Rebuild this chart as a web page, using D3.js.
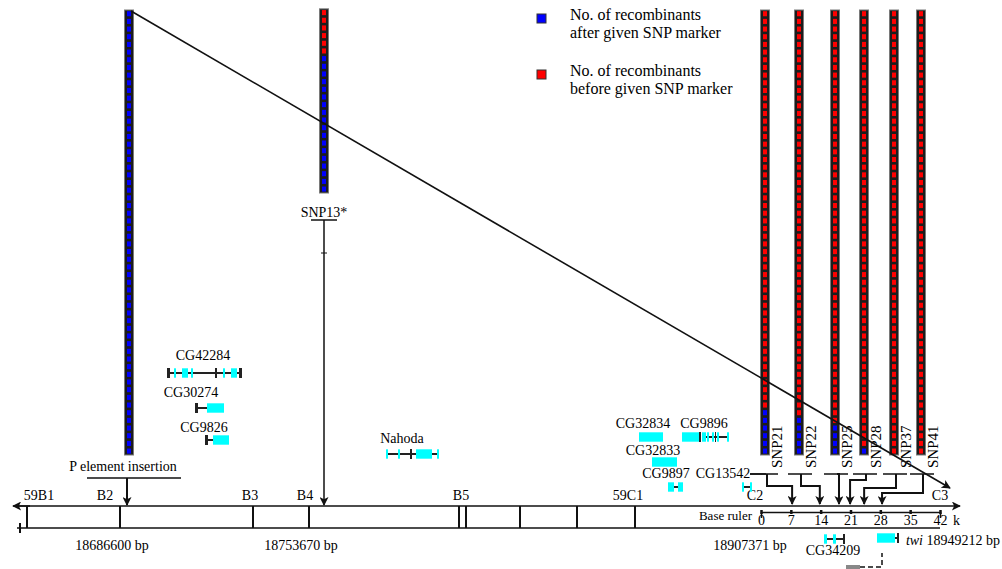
<!DOCTYPE html>
<html>
<head>
<meta charset="utf-8">
<script src="https://cdn.jsdelivr.net/npm/d3@7"></script>
<style>
body { margin: 0; background: #fff; }
svg text { font-family: "Liberation Serif", "Times New Roman", serif; fill: #000; }
</style>
</head>
<body>
<div id="chart"></div>
<script>
const w = 1002;
const h = 569;

// recombinant counts for each marker column
var markers = ["P element", "SNP13*", "SNP21", "SNP22", "SNP25", "SNP28", "SNP37", "SNP41"];
var afterCounts = [58, 18, 6, 5, 4, 1, 0, 0];
var beforeCounts = [0, 6, 52, 53, 54, 57, 58, 58];
var markerPos = [129, 324, 765, 799, 835, 864, 894, 921]; // schematic map units

// SNP positions on the base ruler (kb)
var snpNames = ["SNP21", "SNP22", "SNP25", "SNP28", "SNP37", "SNP41"];
var snpKb = [7.3, 13.8, 18.3, 20.9, 24.2, 28.4];
var rulerTicks = [0, 7, 14, 21, 28, 35, 42];

// cytological bands
var bandNames = ["59B1", "B2", "B3", "B4", "B5", "59C1", "C2", "C3"];
var bandLabelPos = [39, 105, 250, 305, 461, 628, 755, 940];
var bandBorders = [27, 120, 253, 309, 459, 466, 520, 577, 635];

var coordLabels = ["18686600 bp", "18753670 bp", "18907371 bp"];
var coordPos = [112, 301, 750];

// genes: name, label position, parts [kind, start, end]
var geneNames = ["CG42284", "CG30274", "CG9826", "Nahoda", "CG32834", "CG9896", "CG32833", "CG9897", "CG13542", "CG34209", "twi"];
var geneLabelX = [203, 191, 204, 402, 643, 704, 653, 666, 723, 833, null];
var geneParts = [
    [["intron", 167, 241], ["exon", 174, 176], ["exon", 182, 188], ["exon", 191, 193], ["exon", 223, 225], ["exon", 231, 237], ["cap", 167, 170], ["cap", 215, 217], ["cap", 239, 242]],
    [["intron", 196, 207], ["cap", 195, 198], ["exon", 207, 224]],
    [["intron", 206, 213], ["cap", 205, 208], ["exon", 213, 229]],
    [["intron", 387, 439], ["exon", 386, 388], ["exon", 398, 400], ["exon", 416, 432], ["exon", 437, 439], ["cap", 410, 412]],
    [["exon", 639, 663]],
    [["intron", 706, 729], ["exon", 682, 699], ["cap", 699, 701], ["exon", 702, 706], ["exon", 707, 709], ["exon", 712, 714], ["cap", 715, 716], ["exon", 717, 719], ["exon", 727, 729]],
    [["exon", 652, 677]],
    [["exon", 668, 674], ["intron", 674, 678], ["exon", 678, 683]],
    [["intron", 743, 751], ["exon", 742, 744], ["exon", 750, 752]],
    [["intron", 825, 845], ["exon", 824, 827], ["exon", 833, 836], ["cap", 843, 845]],
    [["exon", 877, 895], ["intron", 895, 899], ["cap", 897, 899]]
];

// layout
var geneRowY = [373, 408, 440, 454, 437, 437, 462, 487, 487, 539, 538];
var geneLabelY = [360, 397, 432, 443, 428, 428, 455, 478, 478, 555, 0];
var barBase = [455, 455, 455, 455, 455, 455, 455, 455];
barBase[1] = 193;
var elbowY = [486, 486, 474, 480, 488, 493];
var topLineY = 506;
var bottomLineY = 528;
var serif = "Liberation Serif, Times New Roman, serif";

var mapX = d3.scaleLinear().domain([0, 1000]).range([0, 1000]);
var cellScale = d3.scaleLinear().domain([0, 58]).range([0, 445]);
var ruler = d3.scaleLinear().domain([0, 42]).range([761, 940]);

var svg = d3.select("#chart")
    .append("svg")
    .attr("width", w)
    .attr("height", h);

svg.append("rect").attr("width", w).attr("height", h).attr("fill", "#fff");

var defs = svg.append("defs");
defs.append("marker")
    .attr("id", "arrow")
    .attr("viewBox", "0 0 10 10")
    .attr("refX", 9)
    .attr("refY", 5)
    .attr("markerWidth", 10)
    .attr("markerHeight", 9)
    .attr("markerUnits", "userSpaceOnUse")
    .attr("orient", "auto")
    .append("path")
    .attr("d", "M0,0 L10,5 L0,10 L2.5,5 z")
    .attr("fill", "#111");

// ---- recombinant bars ----
var bars = svg.selectAll("g.bar")
    .data(markers)
    .enter()
    .append("g")
    .attr("class", "bar");

bars.append("rect")
    .attr("x", function(d, i) { return mapX(markerPos[i]) - 4.5; })
    .attr("y", function(d, i) { return barBase[i] - cellScale(afterCounts[i] + beforeCounts[i]); })
    .attr("width", 9)
    .attr("height", function(d, i) { return cellScale(afterCounts[i] + beforeCounts[i]); })
    .attr("fill", "#1c1c1c")
    .attr("stroke", "#7a7a7a")
    .attr("stroke-width", 1);

bars.each(function(d, i) {
    var cells = [];
    for (var k = 0; k < afterCounts[i] + beforeCounts[i]; k++) {
        cells.push(k < afterCounts[i] ? "#0000ff" : "#ff0000");
    }
    d3.select(this).selectAll("rect.cell")
        .data(cells)
        .enter()
        .append("rect")
        .attr("class", "cell")
        .attr("x", mapX(markerPos[i]) - 2)
        .attr("y", function(c, k) { return barBase[i] - cellScale(k + 1) + 1.2; })
        .attr("width", 4)
        .attr("height", cellScale(1) - 2.6)
        .attr("fill", function(c) { return c; });
});

// ---- legend ----
var legendText = [["No. of recombinants", "after given SNP marker"], ["No. of recombinants", "before given SNP marker"]];
var legendColour = ["#0000ff", "#ff0000"];
var legend = svg.selectAll("g.legend")
    .data(legendText)
    .enter()
    .append("g")
    .attr("class", "legend")
    .attr("transform", function(d, i) { return "translate(537," + (14 + i * 56) + ")"; });
legend.append("rect")
    .attr("width", 9)
    .attr("height", 9)
    .attr("fill", function(d, i) { return legendColour[i]; })
    .attr("stroke", "#333")
    .attr("stroke-width", 1);
legend.each(function(d) {
    d3.select(this).selectAll("text")
        .data(d)
        .enter()
        .append("text")
        .attr("x", 33)
        .attr("y", function(t, j) { return 6 + j * 18; })
        .attr("font-size", 16)
        .text(function(t) { return t; });
});

// ---- chromosome band ----
svg.append("line")
    .attr("x1", 14).attr("x2", 960)
    .attr("y1", topLineY).attr("y2", topLineY)
    .attr("stroke", "#111").attr("stroke-width", 1.5)
    .attr("marker-end", "url(#arrow)");
svg.append("line")
    .attr("x1", 30).attr("x2", 13)
    .attr("y1", topLineY).attr("y2", topLineY)
    .attr("stroke", "#111").attr("stroke-width", 1.5)
    .attr("marker-end", "url(#arrow)");
svg.append("line")
    .attr("x1", 17).attr("x2", 940)
    .attr("y1", bottomLineY).attr("y2", bottomLineY)
    .attr("stroke", "#111").attr("stroke-width", 1.5);
svg.append("line")
    .attr("x1", 20).attr("x2", 20)
    .attr("y1", bottomLineY - 5).attr("y2", bottomLineY + 5)
    .attr("stroke", "#111").attr("stroke-width", 2);

svg.selectAll("line.border")
    .data(bandBorders)
    .enter()
    .append("line")
    .attr("class", "border")
    .attr("x1", function(d) { return mapX(d); })
    .attr("x2", function(d) { return mapX(d); })
    .attr("y1", topLineY)
    .attr("y2", bottomLineY)
    .attr("stroke", "#111")
    .attr("stroke-width", 2);

svg.selectAll("text.band")
    .data(bandNames)
    .enter()
    .append("text")
    .attr("class", "band")
    .attr("x", function(d, i) { return mapX(bandLabelPos[i]); })
    .attr("y", 500)
    .attr("text-anchor", "middle")
    .attr("font-size", 14)
    .text(function(d) { return d; });

svg.selectAll("text.coord")
    .data(coordLabels)
    .enter()
    .append("text")
    .attr("class", "coord")
    .attr("x", function(d, i) { return mapX(coordPos[i]); })
    .attr("y", 550)
    .attr("text-anchor", "middle")
    .attr("font-size", 14)
    .text(function(d) { return d; });

var twiLabel = svg.append("text")
    .attr("x", 1000)
    .attr("y", 545)
    .attr("text-anchor", "end")
    .attr("font-size", 14);
twiLabel.append("tspan").attr("font-style", "italic").text("twi");
twiLabel.append("tspan").text(" 18949212 bp");

// ---- base ruler ----
var rulerAxis = d3.axisBottom(ruler)
    .tickValues(rulerTicks)
    .tickSizeInner(4)
    .tickSizeOuter(6);
var rg = svg.append("g")
    .attr("transform", "translate(0,512)")
    .call(rulerAxis)
    .attr("font-family", serif)
    .attr("font-size", 14);
rg.select(".domain").attr("stroke", "#111").attr("stroke-width", 1.5);
rg.selectAll(".tick line").attr("y1", -2).attr("y2", 2).attr("stroke", "#111").attr("stroke-width", 2.5);
rg.selectAll(".tick text").attr("y", 3).attr("fill", "#000");
svg.append("text").attr("x", 953).attr("y", 525).attr("font-size", 14).text("k");
svg.append("text").attr("x", 752).attr("y", 520).attr("text-anchor", "end").attr("font-size", 13).text("Base ruler");

// ---- P element and SNP13* arrows ----
svg.append("text").attr("x", mapX(123)).attr("y", 471).attr("text-anchor", "middle").attr("font-size", 14).text("P element insertion");
svg.append("line").attr("x1", 87).attr("x2", 181).attr("y1", 478).attr("y2", 478).attr("stroke", "#111").attr("stroke-width", 1.5);
svg.append("line")
    .attr("x1", mapX(127)).attr("x2", mapX(127))
    .attr("y1", 478).attr("y2", topLineY - 1)
    .attr("stroke", "#111").attr("stroke-width", 2)
    .attr("marker-end", "url(#arrow)");

svg.append("text").attr("x", mapX(markerPos[1])).attr("y", 217).attr("text-anchor", "middle").attr("font-size", 14).text(markers[1]);
svg.append("line").attr("x1", 311).attr("x2", 337).attr("y1", 220).attr("y2", 220).attr("stroke", "#111").attr("stroke-width", 1.5);
svg.append("line").attr("x1", 321).attr("x2", 327).attr("y1", 253).attr("y2", 253).attr("stroke", "#111").attr("stroke-width", 1);
svg.append("line")
    .attr("x1", mapX(markerPos[1])).attr("x2", mapX(markerPos[1]))
    .attr("y1", 220).attr("y2", topLineY - 1)
    .attr("stroke", "#111").attr("stroke-width", 1.5)
    .attr("marker-end", "url(#arrow)");

// ---- SNP labels and connectors ----
var snp = svg.selectAll("g.snp")
    .data(snpNames)
    .enter()
    .append("g")
    .attr("class", "snp");

snp.append("text")
    .attr("transform", function(d, i) { return "translate(" + (mapX(markerPos[i + 2]) + 17) + ",468) rotate(-90)"; })
    .attr("font-size", 15)
    .text(function(d) { return d; });

snp.append("line")
    .attr("x1", function(d, i) { return i === 0 ? 750 : mapX(markerPos[i + 2]) - 11; })
    .attr("x2", function(d, i) { return mapX(markerPos[i + 2]) + 13; })
    .attr("y1", 474).attr("y2", 474)
    .attr("stroke", "#111").attr("stroke-width", 1.5);

snp.append("path")
    .attr("d", function(d, i) {
        var x0 = mapX(markerPos[i + 2]) + 2;
        var x1 = ruler(snpKb[i]);
        return "M" + x0 + ",474 V" + elbowY[i] + " H" + x1 + " V" + (topLineY - 2);
    })
    .attr("fill", "none")
    .attr("stroke", "#111")
    .attr("stroke-width", 2)
    .attr("marker-end", "url(#arrow)");

// ---- diagonal ----
svg.append("line")
    .attr("x1", mapX(markerPos[0]) + 2).attr("y1", 11)
    .attr("x2", 950).attr("y2", 488)
    .attr("stroke", "#111").attr("stroke-width", 1.6)
    .attr("marker-end", "url(#arrow)");

// ---- genes ----
var genes = svg.selectAll("g.gene")
    .data(geneNames)
    .enter()
    .append("g")
    .attr("class", "gene");

genes.each(function(d, i) {
    var g = d3.select(this);
    var y = geneRowY[i];
    g.selectAll("line")
        .data(geneParts[i].filter(function(p) { return p[0] === "intron"; }))
        .enter()
        .append("line")
        .attr("x1", function(p) { return mapX(p[1]); })
        .attr("x2", function(p) { return mapX(p[2]); })
        .attr("y1", y).attr("y2", y)
        .attr("stroke", "#222")
        .attr("stroke-width", 2);
    g.selectAll("rect")
        .data(geneParts[i].filter(function(p) { return p[0] !== "intron"; }))
        .enter()
        .append("rect")
        .attr("x", function(p) { return mapX(p[1]); })
        .attr("width", function(p) { return mapX(p[2]) - mapX(p[1]); })
        .attr("y", function(p) { return p[0] === "cap" ? y - 5 : y - 4.7; })
        .attr("height", function(p) { return p[0] === "cap" ? 10 : 9.4; })
        .attr("fill", function(p) { return p[0] === "cap" ? "#222" : "#00ffff"; });
    if (geneLabelX[i] !== null) {
        g.append("text")
            .attr("x", mapX(geneLabelX[i]))
            .attr("y", geneLabelY[i])
            .attr("text-anchor", "middle")
            .attr("font-size", 14)
            .text(d);
    }
});

// CG13542 label leader
svg.append("line").attr("x1", 750).attr("x2", 766).attr("y1", 474).attr("y2", 474).attr("stroke", "#111").attr("stroke-width", 1.5);

// cut-off track at the bottom edge
svg.append("rect").attr("x", 846).attr("y", 565).attr("width", 14).attr("height", 4).attr("fill", "#888");
svg.append("path")
    .attr("d", "M860,567 H882 V553")
    .attr("fill", "none")
    .attr("stroke", "#111")
    .attr("stroke-width", 1.5)
    .attr("stroke-dasharray", "5,3");
</script>
</body>
</html>
